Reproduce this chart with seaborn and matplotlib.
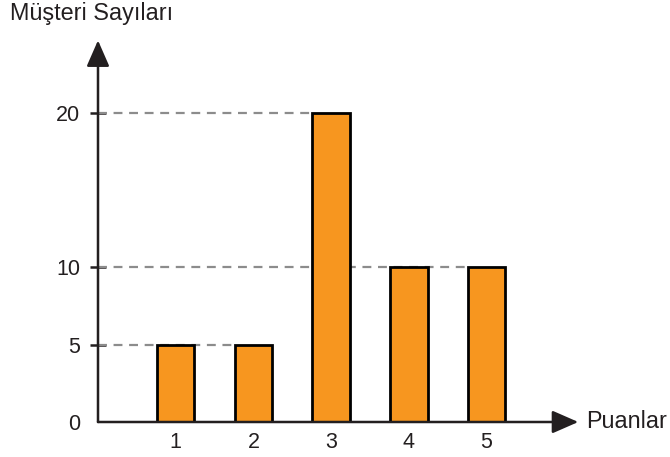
import matplotlib
matplotlib.use("Agg")
import matplotlib.pyplot as plt
import seaborn as sns
import pandas as pd

# data
puanlar = ["1", "2", "3", "4", "5"]
musteri = [5, 5, 20, 10, 10]
y_ticks = [0, 5, 10, 20]

sns.set_style("white")
plt.rcParams["font.family"] = ["Liberation Sans", "DejaVu Sans"]

df = pd.DataFrame({"Puan": puanlar, "Sayi": musteri})
bar_w = 0.48
ink = "#231f20"

fig = plt.figure(figsize=(6.7, 4.57), dpi=100)
ax = fig.add_axes([98 / 670, 35 / 457, 544 / 670, 394 / 457])

sns.barplot(data=df, x="Puan", y="Sayi", order=puanlar, color="#f7961f",
            width=bar_w, saturation=1, edgecolor="black", linewidth=2,
            zorder=3, ax=ax)

ax.set_xlim(-1, 6)
ax.set_ylim(0, 25.5)
for s in ax.spines.values():
    s.set_visible(False)

# dashed guide lines from the y axis to the last bar of each height
for v in y_ticks[1:]:
    last = max(i for i, c in enumerate(musteri) if c == v)
    ax.plot([-1, last - bar_w / 2], [v, v], color="#8c8c8c", lw=1.6,
            dashes=(4, 3), zorder=1)

# axes with arrow heads
arrow = dict(arrowstyle="-|>,head_length=0.8,head_width=0.35", color=ink,
             lw=1.8, mutation_scale=20, shrinkA=0, shrinkB=0)
ax.annotate("", xy=(-1, 24.7), xytext=(-1, 0), arrowprops=arrow,
            annotation_clip=False, zorder=4)
ax.annotate("", xy=(5.18, 0), xytext=(-1, 0), arrowprops=arrow,
            annotation_clip=False, zorder=4)

ax.set_yticks(y_ticks)
ax.set_yticklabels([str(t) for t in y_ticks], fontsize=15.5, color=ink)
ax.tick_params(axis="y", direction="inout", length=11, width=1.8,
               color=ink, pad=7.5, left=True)
ax.yaxis.get_major_ticks()[0].tick1line.set_visible(False)
ax.tick_params(axis="x", length=0, pad=7, labelsize=15.5, labelcolor=ink)
ax.set_xlabel("")
ax.set_ylabel("")

ax.text(5.28, -0.39, "Puanlar", fontsize=16.8, color=ink, va="baseline",
        ha="left", clip_on=False)
fig.text(10 / 670, 1 - 20 / 457, "Müşteri Sayıları", fontsize=16.8,
         color=ink, va="baseline", ha="left")

fig.savefig("out.png", dpi=100)
